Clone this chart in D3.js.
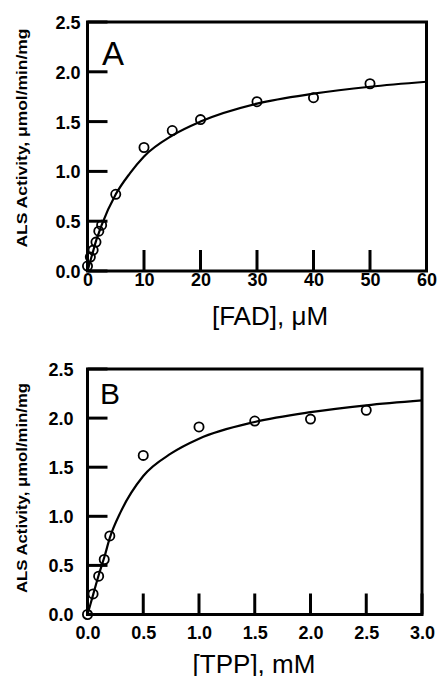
<!DOCTYPE html>
<html>
<head>
<meta charset="utf-8">
<script src="https://cdn.jsdelivr.net/npm/d3@7"></script>
<style>
  body { margin: 0; background: #fff; }
  svg { display: block; font-family: "Liberation Sans", Arial, sans-serif; }
  .tick text { font-size: 18px; font-weight: bold; fill: #000; }
</style>
</head>
<body>
<svg width="437" height="676"></svg>
<script>
// panel A: FAD
const fadConc = [0, 0.5, 1, 1.5, 2, 2.5, 5, 10, 15, 20, 30, 40, 50];
const fadActivity = [0.05, 0.14, 0.21, 0.29, 0.4, 0.46, 0.77, 1.24, 1.41, 1.52, 1.7, 1.74, 1.88];
// fitted curve
const fadCurveX = [0, 0.5, 1, 1.5, 2, 2.5, 5, 7.5, 10, 15, 20, 30, 40, 50, 60];
const fadCurveY = [0, 0.1, 0.2, 0.3, 0.38, 0.46, 0.77, 0.98, 1.15, 1.36, 1.5, 1.68, 1.78, 1.85, 1.9];
const fadTicks = [0, 10, 20, 30, 40, 50, 60];

// panel B: TPP
const tppConc = [0, 0.05, 0.1, 0.15, 0.2, 0.5, 1.0, 1.5, 2.0, 2.5];
const tppActivity = [0.0, 0.21, 0.39, 0.56, 0.8, 1.62, 1.91, 1.97, 1.99, 2.08];
const tppCurveX = [0, 0.05, 0.1, 0.15, 0.2, 0.3, 0.5, 0.75, 1.0, 1.5, 2.0, 2.5, 3.0];
const tppCurveY = [0, 0.2, 0.4, 0.58, 0.78, 1.05, 1.41, 1.64, 1.79, 1.96, 2.06, 2.13, 2.18];
const tppTicks = [0, 0.5, 1.0, 1.5, 2.0, 2.5, 3.0];

const activityTicks = [0, 0.5, 1.0, 1.5, 2.0, 2.5];
const yLabel = 'ALS Activity, μmol/min/mg';

const svg = d3.select('svg');

const panels = [
  {
    letter: 'A', xs: fadConc, ys: fadActivity, cx: fadCurveX, cy: fadCurveY,
    xTicks: fadTicks, xMax: 60, xFormat: d3.format('d'), xLabel: '[FAD], μM',
    left: 87.5, top: 22, w: 339, h: 249, yPad: 7, xLabY: 15,
    letterPos: [102, 65, 33], xLabelPos: [270, 325], yLabelPos: [27, 138, 219]
  },
  {
    letter: 'B', xs: tppConc, ys: tppActivity, cx: tppCurveX, cy: tppCurveY,
    xTicks: tppTicks, xMax: 3, xFormat: d3.format('.1f'), xLabel: '[TPP], mM',
    left: 87.5, top: 369, w: 334.5, h: 245.5, yPad: 14, xLabY: 24,
    letterPos: [100, 404, 30], xLabelPos: [254, 673], yLabelPos: [27, 488, 210]
  }
];

panels.forEach(p => {
  const g = svg.append('g').attr('transform', `translate(${p.left},${p.top})`);

  const xScale = d3.scaleLinear().domain([0, p.xMax]).range([0, p.w]);
  const yScale = d3.scaleLinear().domain([0, 2.5]).range([p.h, 0]);

  const yAxisG = g.append('g')
    .call(d3.axisLeft(yScale).tickValues(activityTicks).tickFormat(d3.format('.1f'))
      .tickSize(0).tickPadding(p.yPad));
  yAxisG.selectAll('.domain').remove();
  yAxisG.selectAll('.tick text').attr('dy', '0.36em');

  const xAxisG = g.append('g')
    .attr('transform', `translate(0,${p.h})`)
    .call(d3.axisBottom(xScale).tickValues(p.xTicks).tickFormat(p.xFormat)
      .tickSize(0));
  xAxisG.selectAll('.domain').remove();
  xAxisG.selectAll('.tick text').attr('y', p.xLabY).attr('dy', 0);

  // inward ticks
  g.selectAll('line.ytick').data(activityTicks).enter().append('line')
    .attr('class', 'ytick')
    .attr('x1', 0).attr('x2', 20)
    .attr('y1', d => yScale(d)).attr('y2', d => yScale(d))
    .attr('stroke', '#000').attr('stroke-width', 3);

  g.selectAll('line.xtick').data(p.xTicks).enter().append('line')
    .attr('class', 'xtick')
    .attr('x1', d => xScale(d)).attr('x2', d => xScale(d))
    .attr('y1', p.h).attr('y2', p.h - 21)
    .attr('stroke', '#000').attr('stroke-width', 3);

  // frame
  g.append('rect')
    .attr('width', p.w).attr('height', p.h)
    .attr('fill', 'none').attr('stroke', '#000').attr('stroke-width', 3);

  const line = d3.line()
    .x((d, i) => xScale(p.cx[i]))
    .y(d => yScale(d))
    .curve(d3.curveMonotoneX);

  g.append('path')
    .attr('d', line(p.cy))
    .attr('fill', 'none').attr('stroke', '#000').attr('stroke-width', 2.2);

  g.selectAll('circle.pt').data(p.ys).enter().append('circle')
    .attr('class', 'pt')
    .attr('cx', (d, i) => xScale(p.xs[i]))
    .attr('cy', d => yScale(d))
    .attr('r', 4.6)
    .attr('fill', 'none').attr('stroke', '#000').attr('stroke-width', 1.8);

  svg.append('text')
    .attr('x', p.letterPos[0]).attr('y', p.letterPos[1])
    .attr('font-size', p.letterPos[2])
    .text(p.letter);

  svg.append('text')
    .attr('x', p.xLabelPos[0]).attr('y', p.xLabelPos[1])
    .attr('text-anchor', 'middle')
    .attr('font-size', 26)
    .text(p.xLabel);

  svg.append('text')
    .attr('transform', `translate(${p.yLabelPos[0]},${p.yLabelPos[1]}) rotate(-90)`)
    .attr('text-anchor', 'middle')
    .attr('font-size', 14)
    .attr('font-weight', 'bold')
    .attr('textLength', p.yLabelPos[2])
    .attr('lengthAdjust', 'spacingAndGlyphs')
    .text(yLabel);
});
</script>
</body>
</html>
